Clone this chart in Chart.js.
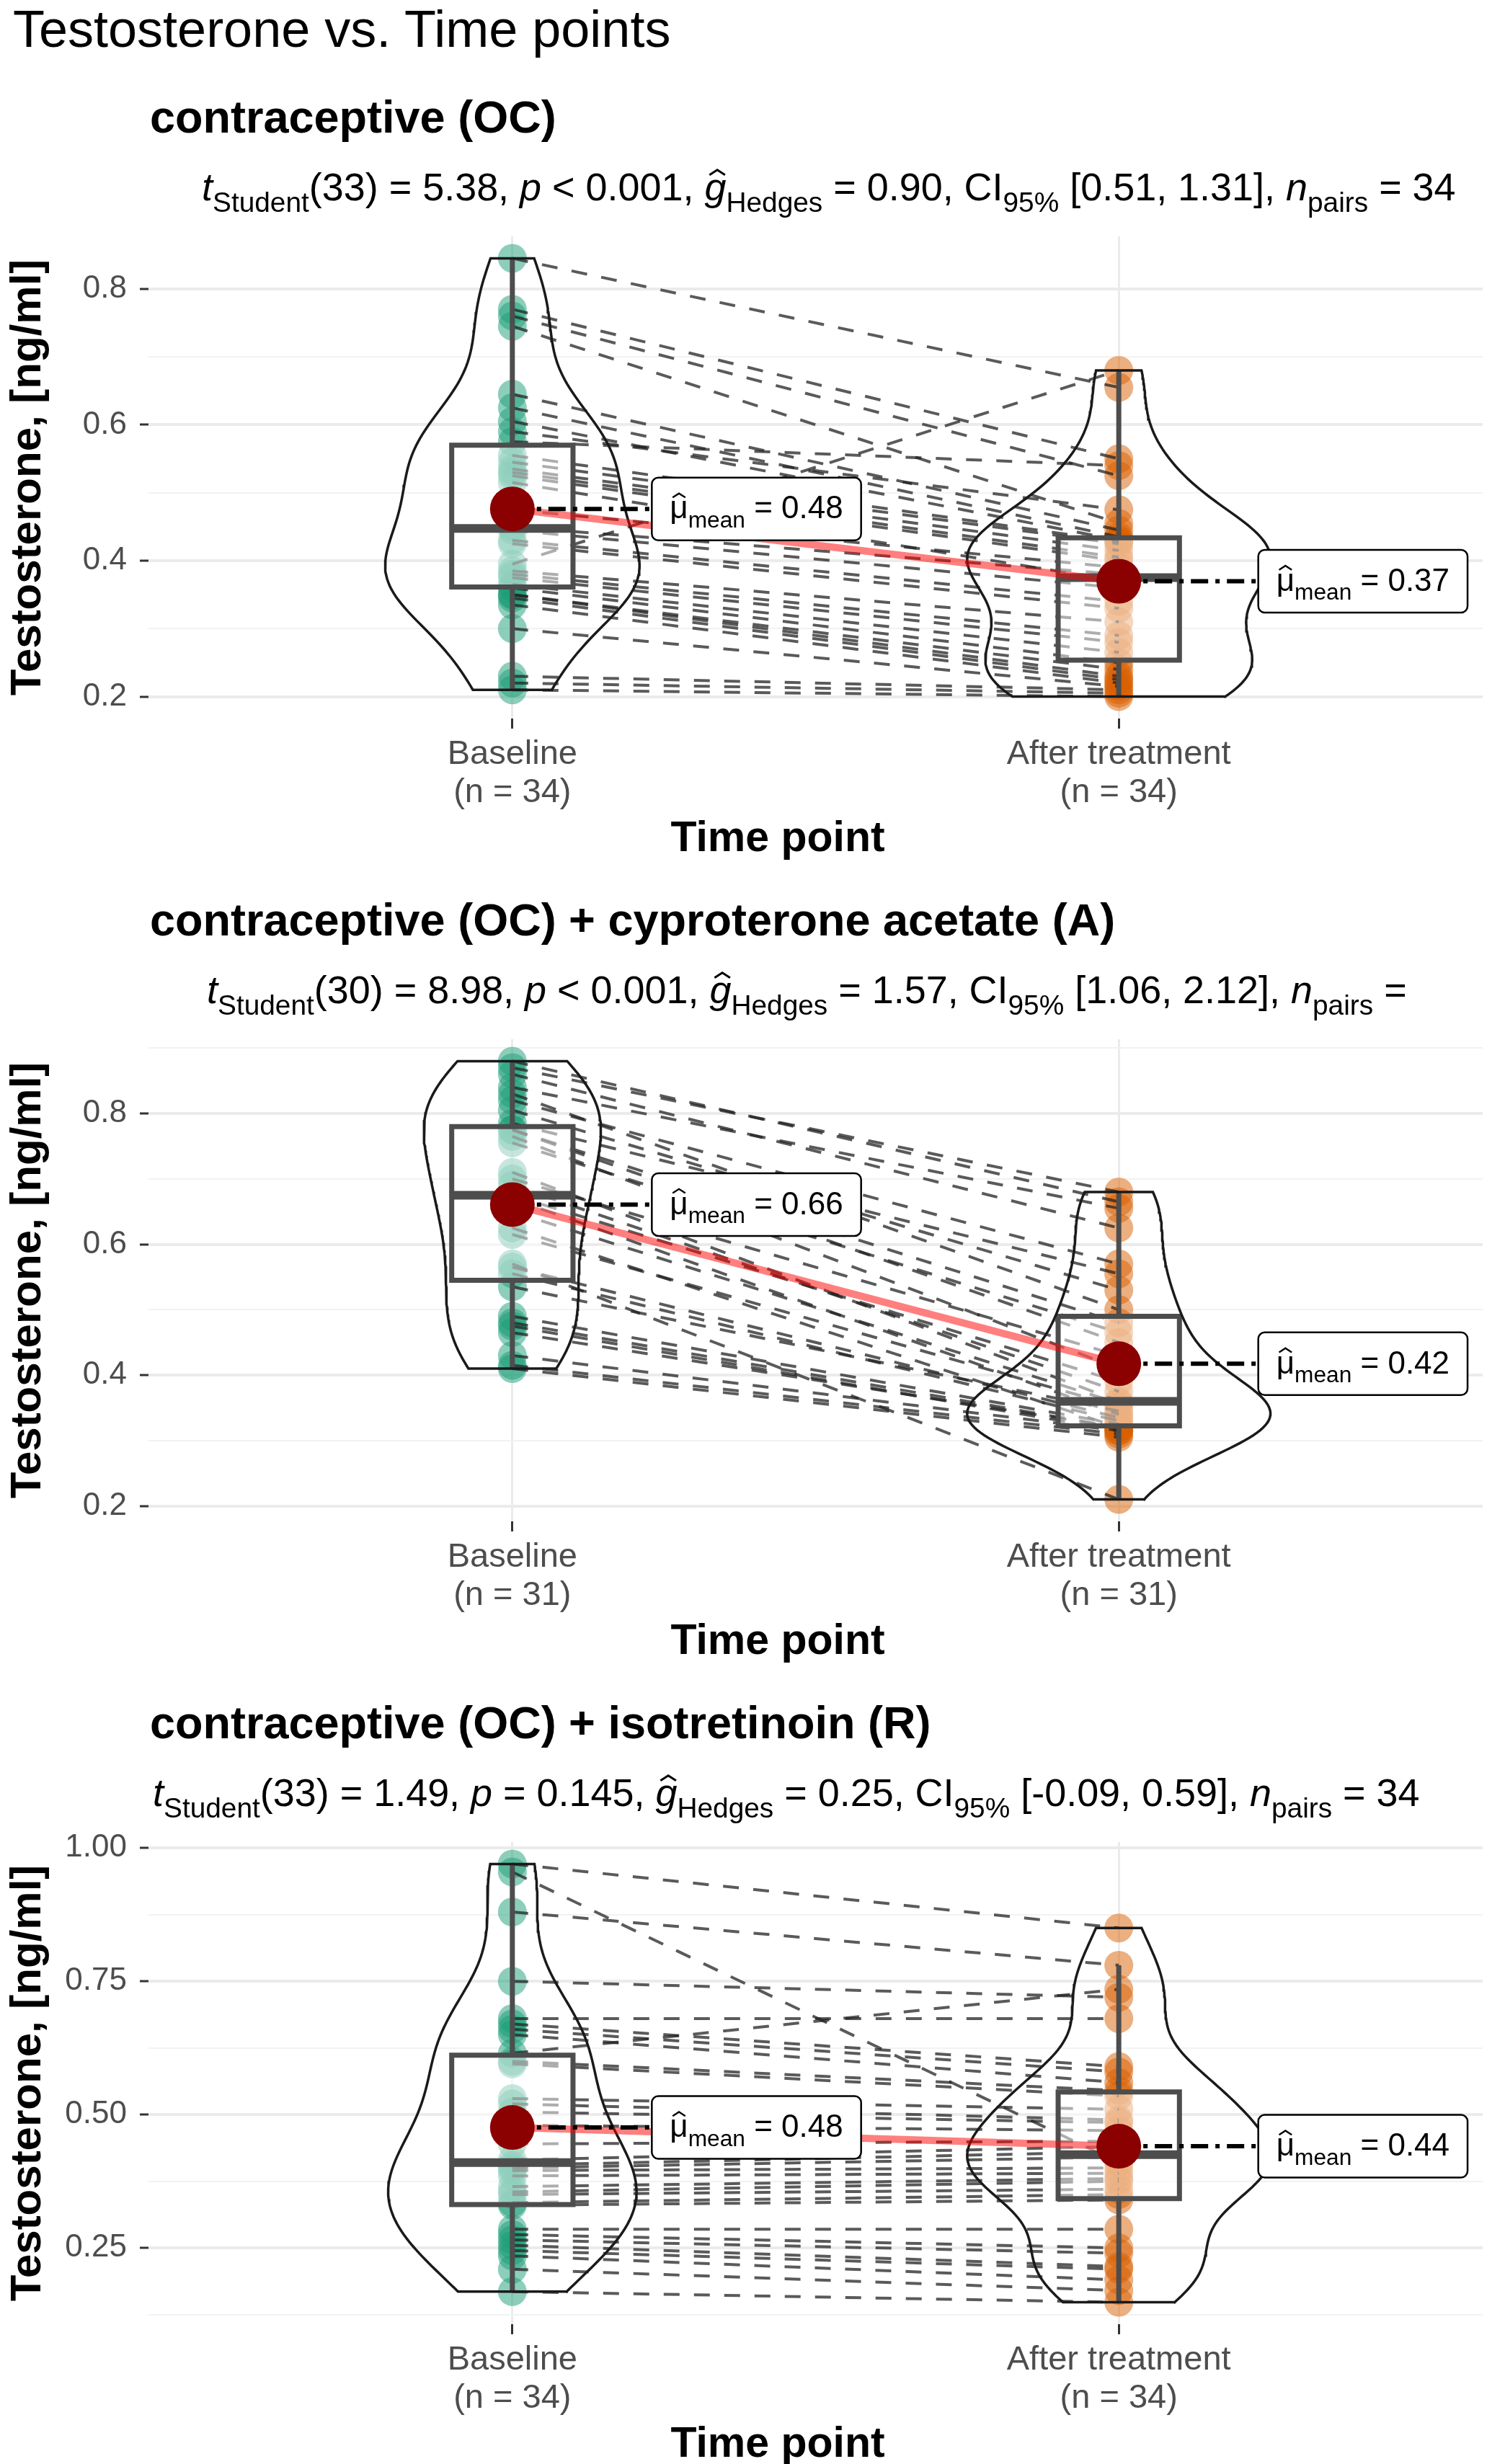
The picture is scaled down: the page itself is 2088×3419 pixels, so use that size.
<!DOCTYPE html>
<html>
<head>
<meta charset="utf-8">
<script src="https://cdn.jsdelivr.net/npm/chart.js@4.4.1/dist/chart.umd.min.js"></script>
<style>
  html, body { margin: 0; padding: 0; background: #fff; width: 2088px; height: 3419px; overflow: hidden; }
  #title { position: absolute; left: 18px; top: 0; font: 72px 'Liberation Sans', Arial, sans-serif; line-height: 80px; color: #000; white-space: nowrap; }
  canvas { position: absolute; left: 0; }
</style>
</head>
<body>
<div id="title">Testosterone vs. Time points</div>
<canvas id="panel1" width="2088" height="1114" style="top:97px"></canvas>
<canvas id="panel2" width="2088" height="1114" style="top:1211px"></canvas>
<canvas id="panel3" width="2088" height="1114" style="top:2325px"></canvas>
<script>
const FONT = "'Liberation Sans', Arial, sans-serif";

const groupNames = ['Baseline', 'After treatment'];
const panelTitles = [
    'contraceptive (OC)',
    'contraceptive (OC) + cyproterone acetate (A)',
    'contraceptive (OC) + isotretinoin (R)'
];

// one entry per subject, baseline[i] is paired with after[i]
const baselineOC = [0.845, 0.77, 0.76, 0.745, 0.645, 0.625, 0.605, 0.59, 0.575, 0.555, 0.545, 0.535, 0.53, 0.525, 0.515, 0.475, 0.45, 0.445, 0.43, 0.425, 0.395, 0.385, 0.38, 0.375, 0.365, 0.36, 0.35, 0.35, 0.345, 0.335, 0.3, 0.23, 0.22, 0.21];
const afterOC = [0.655, 0.55, 0.525, 0.455, 0.445, 0.435, 0.43, 0.475, 0.54, 0.428, 0.425, 0.415, 0.405, 0.4, 0.37, 0.39, 0.38, 0.36, 0.34, 0.33, 0.68, 0.31, 0.29, 0.28, 0.265, 0.25, 0.24, 0.23, 0.225, 0.22, 0.215, 0.21, 0.205, 0.2];

const baselineOCA = [0.88, 0.87, 0.86, 0.84, 0.83, 0.82, 0.805, 0.785, 0.775, 0.775, 0.765, 0.755, 0.71, 0.7, 0.69, 0.675, 0.67, 0.65, 0.625, 0.615, 0.57, 0.565, 0.555, 0.535, 0.49, 0.48, 0.475, 0.465, 0.43, 0.415, 0.41];
const afterOCA = [0.665, 0.68, 0.625, 0.655, 0.5, 0.57, 0.53, 0.555, 0.45, 0.48, 0.41, 0.465, 0.36, 0.43, 0.375, 0.39, 0.34, 0.357, 0.32, 0.352, 0.21, 0.335, 0.33, 0.345, 0.325, 0.32, 0.315, 0.32, 0.315, 0.31, 0.305];

const baselineOCR = [0.97, 0.955, 0.88, 0.75, 0.68, 0.67, 0.66, 0.65, 0.615, 0.6, 0.595, 0.53, 0.52, 0.505, 0.48, 0.445, 0.415, 0.405, 0.4, 0.395, 0.385, 0.365, 0.355, 0.35, 0.335, 0.33, 0.285, 0.275, 0.265, 0.255, 0.245, 0.235, 0.21, 0.168];
const afterOCR = [0.85, 0.41, 0.78, 0.72, 0.68, 0.59, 0.58, 0.56, 0.735, 0.545, 0.535, 0.51, 0.49, 0.485, 0.47, 0.45, 0.44, 0.43, 0.42, 0.4, 0.39, 0.38, 0.375, 0.36, 0.35, 0.34, 0.285, 0.25, 0.24, 0.215, 0.21, 0.19, 0.17, 0.148];

// major y tick labels per panel
const yTicksOC = [0.2, 0.4, 0.6, 0.8];
const yTicksOCA = [0.2, 0.4, 0.6, 0.8];
const yTicksOCR = [0.25, 0.5, 0.75, 1.0];

// test results printed above each panel
const statDf = [33, 30, 33];
const statT = ['5.38', '8.98', '1.49'];
const statP = ['< 0.001', '< 0.001', '= 0.145'];
const statG = ['0.90', '1.57', '0.25'];
const statCI = [['0.51', '1.31'], ['1.06', '2.12'], ['-0.09', '0.59']];
const statPairs = ['34', '', '34'];

const pointColors = ['rgba(27,158,119,0.5)', 'rgba(217,95,2,0.5)'];
const statsLeft = [280, 287, 212];
const labelOffset = 0.23;

function quantile(sorted, p) {
    const h = (sorted.length - 1) * p;
    const lo = Math.floor(h);
    const hi = Math.min(lo + 1, sorted.length - 1);
    return sorted[lo] + (h - lo) * (sorted[hi] - sorted[lo]);
}

function describe(values) {
    const s = [...values].sort((a, b) => a - b);
    const q1 = quantile(s, 0.25), med = quantile(s, 0.5), q3 = quantile(s, 0.75);
    const iqr = q3 - q1;
    const inside = s.filter(v => v >= q1 - 1.5 * iqr && v <= q3 + 1.5 * iqr);
    const mean = s.reduce((a, b) => a + b, 0) / s.length;
    const sd = Math.sqrt(s.reduce((a, b) => a + (b - mean) ** 2, 0) / (s.length - 1));
    return {
        min: s[0], max: s[s.length - 1], q1, med, q3, mean,
        lo: inside[0], hi: inside[inside.length - 1],
        bw: 0.9 * Math.min(sd, iqr / 1.34) * Math.pow(s.length, -0.2)
    };
}

function density(values, bw, y) {
    let sum = 0;
    values.forEach(v => { const z = (y - v) / bw; sum += Math.exp(-0.5 * z * z); });
    return sum / (values.length * bw * Math.sqrt(2 * Math.PI));
}

function lineSet(data, color, width, order, extra) {
    return Object.assign({
        data, showLine: true, fill: false, borderColor: color, borderWidth: width,
        pointRadius: 0, pointHoverRadius: 0, order
    }, extra || {});
}

function buildDatasets(base, after) {
    const groups = [base, after];
    const stats = groups.map(describe);
    const datasets = [];

    groups.forEach((vals, g) => {
        datasets.push({
            data: vals.map(v => ({x: g + 1, y: v})),
            showLine: false, pointRadius: 20, pointHoverRadius: 20,
            pointBackgroundColor: pointColors[g], pointBorderWidth: 0, order: 10
        });
    });

    base.forEach((b, i) => {
        datasets.push(lineSet([{x: 1, y: b}, {x: 2, y: after[i]}], 'rgba(35,35,35,0.75)', 4, 9,
            {borderDash: [22, 20]}));
    });

    stats.forEach((st, g) => {
        const c = g + 1;
        datasets.push(lineSet([
            {x: c - 0.1, y: st.q1}, {x: c + 0.1, y: st.q1}, {x: c + 0.1, y: st.q3},
            {x: c - 0.1, y: st.q3}, {x: c - 0.1, y: st.q1}
        ], '#4d4d4d', 7, 8, {fill: 'shape', backgroundColor: 'rgba(255,255,255,0.5)', borderCapStyle: 'square'}));
        datasets.push(lineSet([{x: c - 0.1, y: st.med}, {x: c + 0.1, y: st.med}], '#4d4d4d', 12, 7));
        datasets.push(lineSet([{x: c, y: st.q3}, {x: c, y: st.hi}], '#4d4d4d', 7, 7));
        datasets.push(lineSet([{x: c, y: st.q1}, {x: c, y: st.lo}], '#4d4d4d', 7, 7));
    });

    const steps = 120;
    const curves = groups.map((vals, g) => {
        const st = stats[g];
        const pts = [];
        for (let k = 0; k <= steps; k++) {
            const y = st.min + (st.max - st.min) * k / steps;
            pts.push({y, d: density(vals, st.bw, y)});
        }
        return pts;
    });
    const dMax = Math.max(...curves.flat().map(p => p.d));
    curves.forEach((pts, g) => {
        const c = g + 1;
        const right = pts.map(p => ({x: c + 0.25 * p.d / dMax, y: p.y}));
        const left = [...pts].reverse().map(p => ({x: c - 0.25 * p.d / dMax, y: p.y}));
        datasets.push(lineSet([...right, ...left, right[0]], '#1a1a1a', 3.5, 5, {borderCapStyle: 'square'}));
    });

    datasets.push(lineSet([{x: 1, y: stats[0].mean}, {x: 2, y: stats[1].mean}], 'rgba(255,0,0,0.5)', 10, 4));

    stats.forEach((st, g) => {
        datasets.push(lineSet([{x: g + 1, y: st.mean}, {x: g + 1 + labelOffset, y: st.mean}], '#000', 6, 3,
            {borderDash: [24, 10, 6, 10]}));
    });

    datasets.push({
        data: stats.map((st, g) => ({x: g + 1, y: st.mean})),
        showLine: false, pointRadius: 31, pointHoverRadius: 31,
        pointBackgroundColor: '#8b0000', pointBorderWidth: 0, order: 2
    });

    return {datasets, stats};
}

function drawHat(ctx, cx, y, size) {
    ctx.save();
    ctx.beginPath();
    ctx.moveTo(cx - 0.2 * size, y);
    ctx.lineTo(cx, y - 0.13 * size);
    ctx.lineTo(cx + 0.2 * size, y);
    ctx.lineWidth = 0.055 * size;
    ctx.strokeStyle = ctx.fillStyle;
    ctx.stroke();
    ctx.restore();
}

function drawRich(ctx, segs, x, baseY, size, measureOnly) {
    let cx = x;
    ctx.textBaseline = 'alphabetic';
    ctx.textAlign = 'left';
    segs.forEach(s => {
        const fs = s.sub ? size * 0.72 : size;
        ctx.font = `${s.it ? 'italic ' : ''}${fs}px ${FONT}`;
        const w = ctx.measureText(s.t).width;
        if (!measureOnly) {
            ctx.fillText(s.t, cx, s.sub ? baseY + size * 0.28 : baseY);
            if (s.hat) drawHat(ctx, cx + w * 0.5 + (s.it ? size * 0.05 : 0), baseY - size * 0.66, size);
        }
        cx += w;
    });
    return cx - x;
}

function statsSegments(i) {
    return [
        {t: 't', it: true}, {t: 'Student', sub: true},
        {t: `(${statDf[i]}) = ${statT[i]}, `},
        {t: 'p', it: true}, {t: ` ${statP[i]}, `},
        {t: 'g', it: true, hat: true}, {t: 'Hedges', sub: true},
        {t: ` = ${statG[i]}, CI`}, {t: '95%', sub: true},
        {t: ` [${statCI[i][0]}, ${statCI[i][1]}], `},
        {t: 'n', it: true}, {t: 'pairs', sub: true},
        {t: ' =' + (statPairs[i] ? ' ' + statPairs[i] : '')}
    ];
}

let statsSize = null;
function getStatsSize(ctx) {
    if (statsSize === null) {
        const w = drawRich(ctx, statsSegments(2), 0, 0, 100, true);
        statsSize = 100 * 1758 / w;
    }
    return statsSize;
}

function makeTextPlugin(idx, stats) {
    return {
        id: 'panelText' + idx,
        afterDraw(chart) {
            const ctx = chart.ctx;
            ctx.save();
            ctx.fillStyle = '#000';
            ctx.font = `bold 63px ${FONT}`;
            ctx.textBaseline = 'alphabetic';
            ctx.textAlign = 'left';
            ctx.fillText(panelTitles[idx], 208, 64 + 0.36 * 63);
            const size = getStatsSize(ctx);
            drawRich(ctx, statsSegments(idx), statsLeft[idx], 162 + 0.36 * size, size);
            // x axis title, sits a little left of the panel centre as in the reference
            ctx.font = `bold 59px ${FONT}`;
            ctx.textAlign = 'center';
            ctx.textBaseline = 'middle';
            ctx.fillText('Time point', 1079, 1068);
            ctx.restore();
        },
        afterDatasetsDraw(chart) {
            const {ctx, scales: {x, y}} = chart;
            stats.forEach((st, g) => {
                const px = x.getPixelForValue(g + 1 + labelOffset);
                const py = y.getPixelForValue(st.mean);
                const segs = [{t: 'μ', hat: true}, {t: 'mean', sub: true}, {t: ' = ' + st.mean.toFixed(2)}];
                ctx.save();
                const tw = drawRich(ctx, segs, 0, 0, 44, true);
                const w = tw + 50, h = 87, r = 9, top = py - h / 2;
                ctx.beginPath();
                ctx.moveTo(px + r, top);
                ctx.arcTo(px + w, top, px + w, top + h, r);
                ctx.arcTo(px + w, top + h, px, top + h, r);
                ctx.arcTo(px, top + h, px, top, r);
                ctx.arcTo(px, top, px + w, top, r);
                ctx.closePath();
                ctx.fillStyle = '#fff';
                ctx.fill();
                ctx.lineWidth = 2.5;
                ctx.strokeStyle = '#000';
                ctx.stroke();
                ctx.fillStyle = '#000';
                drawRich(ctx, segs, px + 25, py + 0.3 * 44, 44);
                ctx.restore();
            });
        }
    };
}

function makePanel(idx, canvasId, base, after, majors) {
    const {datasets, stats} = buildDatasets(base, after);
    const all = base.concat(after);
    const lo = Math.min(...all), hi = Math.max(...all);
    const yMin = lo - 0.05 * (hi - lo), yMax = hi + 0.05 * (hi - lo);
    const step = majors[1] - majors[0];
    const decimals = majors.some(m => Math.abs(m * 10 - Math.round(m * 10)) > 1e-9) ? 2 : 1;
    const gridVals = [];
    for (let k = -1; k <= majors.length * 2; k++) {
        const v = Math.round((majors[0] + k * step / 2) * 10000) / 10000;
        if (v >= yMin && v <= yMax) gridVals.push(v);
    }
    const isMajor = v => majors.some(m => Math.abs(m - v) < 1e-9);

    new Chart(document.getElementById(canvasId), {
        type: 'scatter',
        data: {datasets},
        options: {
            responsive: false,
            devicePixelRatio: 1,
            animation: false,
            events: [],
            layout: {padding: {left: 0, right: 20, top: 231, bottom: 14}},
            plugins: {legend: {display: false}, tooltip: {enabled: false}},
            elements: {line: {tension: 0, borderJoinStyle: 'miter'}},
            scales: {
                x: {
                    type: 'linear', min: 0.4, max: 2.6,
                    afterBuildTicks: s => { s.ticks = [{value: 1}, {value: 2}]; },
                    afterFit: s => { s.height = 200; },
                    ticks: {
                        callback: v => [groupNames[v - 1], `(n = ${base.length})`],
                        color: '#4d4d4d', font: {family: FONT, size: 47, lineHeight: 1.12},
                        padding: 10, maxRotation: 0, autoSkip: false
                    },
                    grid: {color: '#ebebeb', lineWidth: 3, tickColor: '#333333', tickWidth: 3, tickLength: 14},
                    border: {display: false},
                    title: {display: false}
                },
                y: {
                    type: 'linear', min: yMin, max: yMax,
                    afterBuildTicks: s => { s.ticks = gridVals.map(v => ({value: v})); },
                    afterFit: s => { s.width = 206; },
                    ticks: {
                        callback: v => isMajor(v) ? v.toFixed(decimals) : '',
                        color: '#4d4d4d', font: {family: FONT, size: 44}, padding: 18, autoSkip: false
                    },
                    grid: {
                        color: c => isMajor(c.tick.value) ? '#ebebeb' : '#f2f2f2',
                        lineWidth: c => isMajor(c.tick.value) ? 4 : 2,
                        tickColor: c => isMajor(c.tick.value) ? '#333333' : 'rgba(0,0,0,0)',
                        tickWidth: 3, tickLength: 12
                    },
                    border: {display: false},
                    title: {
                        display: true, text: 'Testosterone, [ng/ml]', color: '#000',
                        font: {family: FONT, size: 60, weight: 'bold', lineHeight: 1.2},
                        padding: {top: 3, bottom: 0}
                    }
                }
            }
        },
        plugins: [makeTextPlugin(idx, stats)]
    });
}

makePanel(0, 'panel1', baselineOC, afterOC, yTicksOC);
makePanel(1, 'panel2', baselineOCA, afterOCA, yTicksOCA);
makePanel(2, 'panel3', baselineOCR, afterOCR, yTicksOCR);
</script>
</body>
</html>
